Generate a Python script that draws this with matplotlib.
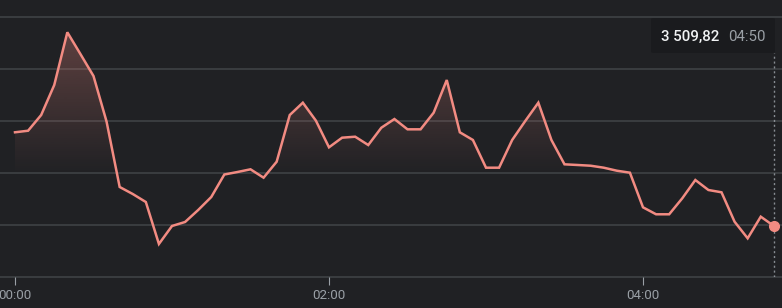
import numpy as np
import matplotlib.pyplot as plt
from matplotlib.colors import to_rgb
from matplotlib.patches import FancyBboxPatch

plt.rcParams['font.family'] = ['Roboto', 'DejaVu Sans']

BG = '#202124'
GRID = '#3c4043'
LINE = '#f28b82'
MUTED = '#9aa0a6'

# minutes since 00:00, one point every 5 minutes
minutes = [0, 5, 10, 15, 20, 25, 30, 35, 40, 45, 50, 55,
           60, 65, 70, 75, 80, 85, 90, 95, 100, 105, 110, 115,
           120, 125, 130, 135, 140, 145, 150, 155, 160, 165, 170, 175,
           180, 185, 190, 195, 200, 205, 210, 215, 220, 225, 230, 235,
           240, 245, 250, 255, 260, 265, 270, 275, 280, 285, 290]
prices = [3527.83, 3528.13, 3531.15, 3536.92, 3547.06, 3542.88, 3538.65, 3529.87,
          3517.31, 3515.96, 3514.42, 3506.35, 3509.81, 3510.58, 3512.88, 3515.38,
          3519.71, 3520.19, 3520.71, 3519.10, 3522.17, 3531.15, 3533.52, 3530.06,
          3524.94, 3526.79, 3526.98, 3525.38, 3528.71, 3530.38, 3528.40, 3528.40,
          3531.60, 3537.88, 3527.83, 3526.35, 3521.02, 3521.02, 3526.35, 3530.00,
          3533.52, 3526.35, 3521.67, 3521.54, 3521.40, 3521.02, 3520.44, 3520.06,
          3513.40, 3512.06, 3512.06, 3515.13, 3518.65, 3516.73, 3516.29, 3510.63,
          3507.44, 3511.60, 3509.82]
grid_levels = [3500, 3510, 3520, 3530, 3540, 3550]
tick_minutes = [0, 120, 240]
tick_labels = ['00:00', '02:00', '04:00']
last_label = '04:50'

W, H = 782, 308
fig = plt.figure(figsize=(W / 100, H / 100), dpi=100, facecolor=BG)
ax = fig.add_axes([0, (H - 277) / H, 1, 277 / H])
ax.set_facecolor(BG)

px_per_min = 314 / 120
xmin = -15 / px_per_min
xmax = xmin + W / px_per_min
ymin = 3500
ymax = 3500 + 277 / 5.2
ax.set_xlim(xmin, xmax)
ax.set_ylim(ymin, ymax)

for lv in grid_levels:
    ax.axhline(lv, color=GRID, lw=1.3, zorder=1, clip_on=False)

# gradient fill under the line
poly = ax.fill_between(minutes, prices, ymin, facecolor='none', edgecolor='none')
rgb = to_rgb(LINE)
n = 256
grad = np.zeros((n, 1, 4))
grad[:, 0, :3] = rgb
yy = np.linspace(ymax, ymin, n)
a = np.clip((yy - 3519.5) / (3549 - 3519.5), 0, 1) * 0.32
grad[:, 0, 3] = a
img = ax.imshow(grad, aspect='auto', extent=[xmin, xmax, ymin, ymax],
                origin='upper', zorder=2, interpolation='bilinear')
img.set_clip_path(poly.get_paths()[0], transform=ax.transData)

ax.plot(minutes, prices, color=LINE, lw=1.8, zorder=3, solid_joinstyle='miter')
ax.plot(minutes[-1], prices[-1], 'o', color=LINE, ms=7, zorder=4)

# hover line
ax.plot([minutes[-1], minutes[-1]], [ymin, ymin + (277 - 53) / 5.2],
        color=MUTED, lw=1.0, ls=(0, (1.5, 2)), alpha=0.85, zorder=2)

for s in ax.spines.values():
    s.set_visible(False)
ax.set_yticks([])
ax.set_xticks(tick_minutes)
ax.set_xticklabels(tick_labels)
ax.tick_params(axis='x', colors=MUTED, length=6, width=0.8, pad=2.5, labelsize=9.6)

# tooltip
x0, x1, y0, y1 = 651, 775, 18, 53
box = FancyBboxPatch((x0 / W, 1 - y1 / H), (x1 - x0) / W, (y1 - y0) / H,
                     boxstyle='round,pad=0,rounding_size=0.004',
                     transform=fig.transFigure, facecolor='#1a1b1e',
                     edgecolor='none', zorder=5)
fig.patches.append(box)
val = f'{prices[-1]:,.2f}'.replace(',', ' ').replace('.', ',')
fig.text(661 / W, 1 - 37 / H, val, color='#f1f3f4', fontsize=10.8,
         fontweight='medium', va='center', ha='left', zorder=6)
fig.text(766 / W, 1 - 37 / H, last_label, color=MUTED, fontsize=10.8,
         va='center', ha='right', zorder=6)

fig.savefig('out.png', dpi=100, facecolor=BG)
